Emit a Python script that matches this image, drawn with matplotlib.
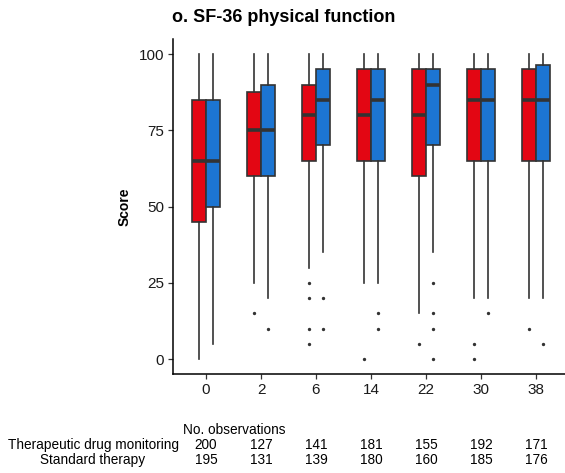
import matplotlib.pyplot as plt
from matplotlib.transforms import blended_transform_factory

plt.rcParams['font.family'] = ['Liberation Sans', 'DejaVu Sans']

# ---- data ----
weeks = ['0', '2', '6', '14', '22', '30', '38']

# therapeutic drug monitoring
tdm_q1 = [45, 60, 65, 65, 60, 65, 65]
tdm_med = [65, 75, 80, 80, 80, 85, 85]
tdm_q3 = [85, 87.5, 90, 95, 95, 95, 95]
tdm_lo = [0, 25, 30, 25, 15, 20, 20]
tdm_hi = [100, 100, 100, 100, 100, 100, 100]
tdm_out = [[], [15], [25, 20, 10, 5], [0], [5], [5, 0], [10]]
tdm_n = [200, 127, 141, 181, 155, 192, 171]

# standard therapy
std_q1 = [50, 60, 70, 65, 70, 65, 65]
std_med = [65, 75, 85, 85, 90, 85, 85]
std_q3 = [85, 90, 95, 95, 95, 95, 96.25]
std_lo = [5, 20, 35, 25, 35, 20, 20]
std_hi = [100, 100, 100, 100, 100, 100, 100]
std_out = [[], [10], [20, 10], [15, 10], [25, 15, 10, 0], [15], [5]]
std_n = [195, 131, 139, 180, 160, 185, 176]

red = '#E30613'
blue = '#1C75D2'
edge = '#333333'

W, H = 565, 473
fig = plt.figure(figsize=(W / 100, H / 100), dpi=100)

# axes box in pixels: left, right, top, bottom
x0, x1, y0, y1 = 173, 569, 38.75, 374.25
ax = fig.add_axes([x0 / W, 1 - y1 / H, (x1 - x0) / W, (y1 - y0) / H])


def make_stats(q1, med, q3, lo, hi, out):
    return [dict(q1=a, med=b, q3=c, whislo=d, whishi=e, fliers=f)
            for a, b, c, d, e, f in zip(q1, med, q3, lo, hi, out)]


pos = list(range(len(weeks)))
off = 0.124
bw = 0.245
for stats, shift, col in [(make_stats(tdm_q1, tdm_med, tdm_q3, tdm_lo, tdm_hi, tdm_out), -off, red),
                          (make_stats(std_q1, std_med, std_q3, std_lo, std_hi, std_out), off, blue)]:
    ax.bxp(stats, positions=[p + shift for p in pos], widths=bw, patch_artist=True,
           showcaps=False, manage_ticks=False,
           boxprops=dict(facecolor=col, edgecolor=edge, linewidth=1.2),
           medianprops=dict(color=edge, linewidth=2.6),
           whiskerprops=dict(color=edge, linewidth=1.2),
           flierprops=dict(marker='o', markersize=1.4, markerfacecolor=edge,
                           markeredgecolor=edge, linestyle='none'))

ax.set_xlim(-0.6, 6.6)
ax.set_ylim(-5, 105)
ax.set_xticks(pos)
ax.set_xticklabels(weeks)
ax.set_yticks([0, 25, 50, 75, 100])
ax.tick_params(axis='both', labelsize=11, length=3.5, width=0.9, color='#333333',
               labelcolor='#1a1a1a', pad=3)
for s in ['top', 'right']:
    ax.spines[s].set_visible(False)
for s in ['left', 'bottom']:
    ax.spines[s].set_linewidth(1.1)
    ax.spines[s].set_color('black')
ax.set_ylabel('Score', fontsize=10, fontweight='bold', labelpad=5)

fig.text(172 / W, 1 - 17 / H, 'o. SF-36 physical function', fontsize=13,
         fontweight='bold', ha='left', va='center')

# observation counts table under the plot
tr = blended_transform_factory(ax.transData, fig.transFigure)
fs = 9.8
fig.text(183 / W, 1 - 430 / H, 'No. observations', fontsize=fs, ha='left', va='center')
fig.text(93 / W, 1 - 445 / H, 'Therapeutic drug monitoring', fontsize=fs, ha='center', va='center')
fig.text(93 / W, 1 - 460 / H, 'Standard therapy', fontsize=fs, ha='center', va='center')
for p, a, b in zip(pos, tdm_n, std_n):
    ax.text(p, 1 - 445 / H, str(a), transform=tr, fontsize=fs, ha='center', va='center')
    ax.text(p, 1 - 460 / H, str(b), transform=tr, fontsize=fs, ha='center', va='center')

fig.savefig('out.png', dpi=100)
